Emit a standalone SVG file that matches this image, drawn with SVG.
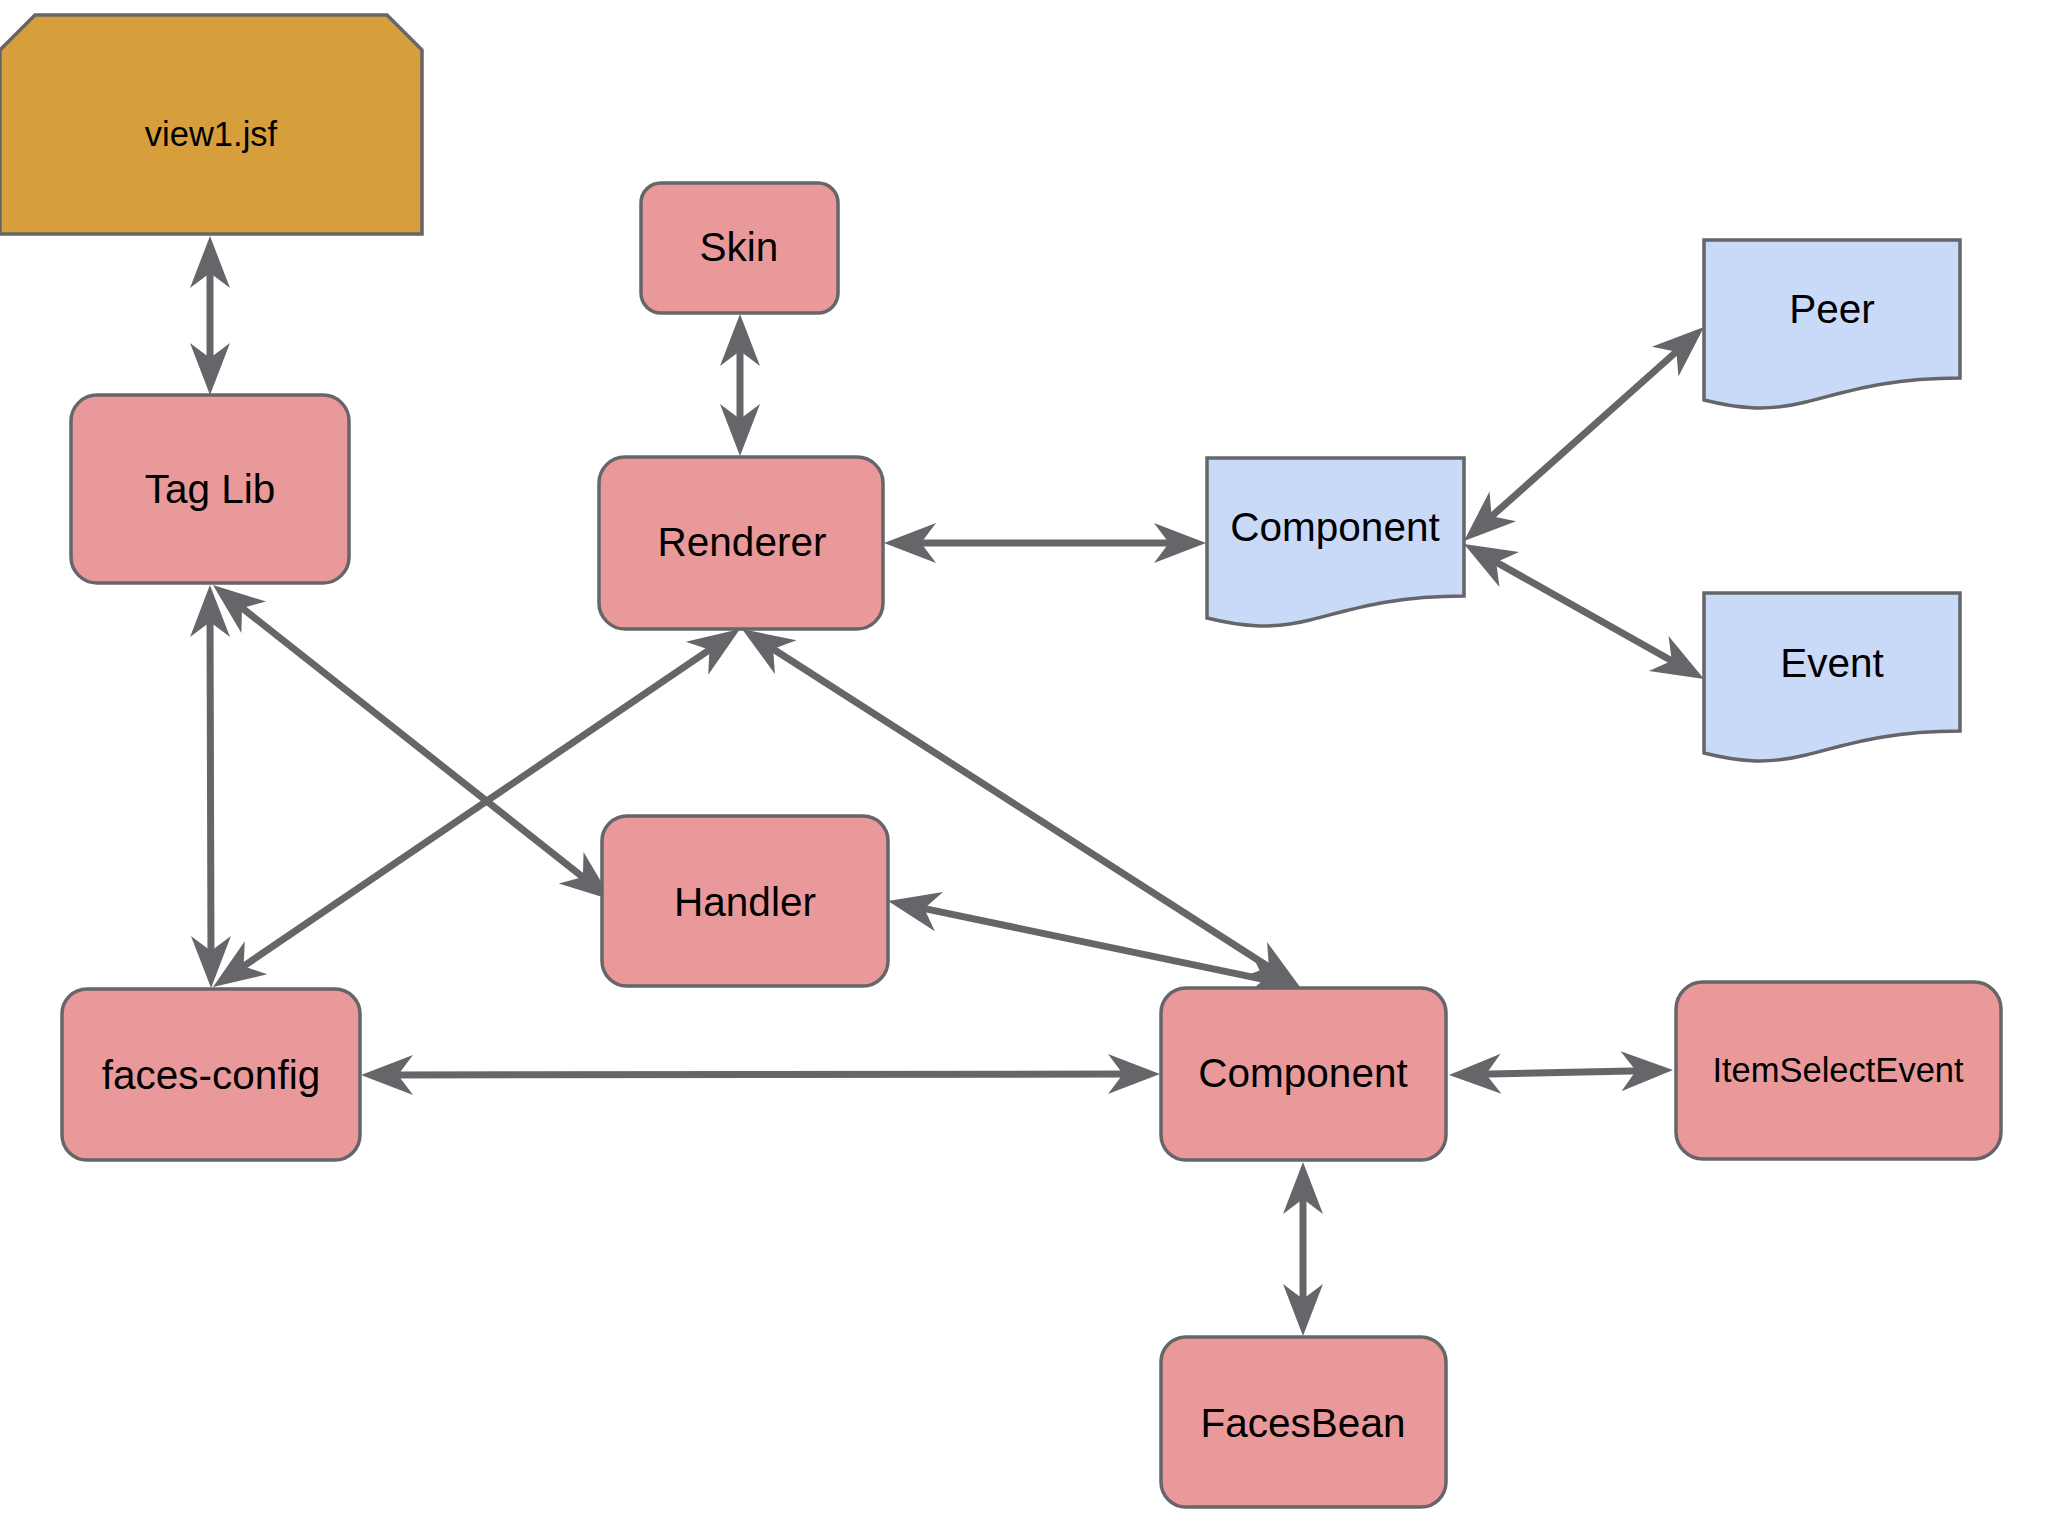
<svg xmlns="http://www.w3.org/2000/svg" width="2048" height="1536" viewBox="0 0 2048 1536">
<style>
.red{fill:#ea999a;stroke:#666569;stroke-width:3.5}
.blue{fill:#c9daf8;stroke:#666569;stroke-width:3.5}
.gold{fill:#d69f3b;stroke:#666569;stroke-width:3.5}
.t{font-family:"Liberation Sans",Arial,sans-serif;font-size:40.5px;fill:#000;text-anchor:middle}
.s{font-size:34.5px}
.c line{stroke:#666569;stroke-width:7;marker-start:url(#ah);marker-end:url(#ah)}
</style>
<defs>
<marker id="ah" markerUnits="userSpaceOnUse" viewBox="0 -20 52 40" refX="22" refY="0" markerWidth="52" markerHeight="40" orient="auto-start-reverse" overflow="visible">
<path d="M0,-20 L52,0 L0,20 L15,0 Z" fill="#666569"/>
</marker>
</defs>
<rect width="2048" height="1536" fill="#fff"/>
<g class="c" id="connectors">
<line x1="210" y1="266" x2="210" y2="365"/>
<line x1="740" y1="344" x2="740" y2="426"/>
<line x1="914" y1="543" x2="1176" y2="543"/>
<line x1="1486.4" y1="521" x2="1681.6" y2="347"/>
<line x1="1490.1" y1="558.7" x2="1677.9" y2="664.3"/>
<line x1="210" y1="615" x2="211" y2="958"/>
<line x1="236.5" y1="603.6" x2="588.4" y2="881.4"/>
<line x1="715.2" y1="645.9" x2="237.8" y2="970.1"/>
<line x1="767.2" y1="645.2" x2="1274.8" y2="970.8"/>
<line x1="917.4" y1="907.1" x2="1270.6" y2="980.9"/>
<line x1="391" y1="1075" x2="1130" y2="1074"/>
<line x1="1479" y1="1074.3" x2="1643" y2="1070.7"/>
<line x1="1303" y1="1192" x2="1303" y2="1306"/>
</g>
<g id="view1">
<path class="gold" d="M0,50 L35,15 H387 L422,50 V234 H0 Z"/>
<text class="t s" x="211" y="146">view1.jsf</text>
</g>
<g id="taglib">
<rect class="red" x="71" y="395" width="278" height="188" rx="26"/>
<text class="t" x="210" y="503">Tag Lib</text>
</g>
<g id="skin">
<rect class="red" x="641" y="183" width="197" height="130" rx="20"/>
<text class="t" x="739" y="261">Skin</text>
</g>
<g id="renderer">
<rect class="red" x="599" y="457" width="284" height="172" rx="26"/>
<text class="t" x="742" y="556">Renderer</text>
</g>
<g id="component-doc">
<path class="blue" d="M1207,458 H1464 V596 C1390,596 1350,610 1310,620 C1270,630 1240,626 1207,618 Z"/>
<text class="t" x="1335" y="541">Component</text>
</g>
<g id="peer">
<path class="blue" d="M1704,240 H1960 V378 C1886,378 1846,392 1806,402 C1766,412 1736,408 1704,400 Z"/>
<text class="t" x="1832" y="323">Peer</text>
</g>
<g id="event">
<path class="blue" d="M1704,593 H1960 V731 C1886,731 1846,745 1806,755 C1766,765 1736,761 1704,753 Z"/>
<text class="t" x="1832" y="677">Event</text>
</g>
<g id="handler">
<rect class="red" x="602" y="816" width="286" height="170" rx="25"/>
<text class="t" x="745" y="916">Handler</text>
</g>
<g id="faces-config">
<rect class="red" x="62" y="989" width="298" height="171" rx="25"/>
<text class="t" x="211" y="1089">faces-config</text>
</g>
<g id="component">
<rect class="red" x="1161" y="988" width="285" height="172" rx="25"/>
<text class="t" x="1303" y="1087">Component</text>
</g>
<g id="itemselectevent">
<rect class="red" x="1676" y="982" width="325" height="177" rx="27"/>
<text class="t s" x="1838" y="1082">ItemSelectEvent</text>
</g>
<g id="facesbean">
<rect class="red" x="1161" y="1337" width="285" height="170" rx="25"/>
<text class="t" x="1303" y="1437">FacesBean</text>
</g>
</svg>
